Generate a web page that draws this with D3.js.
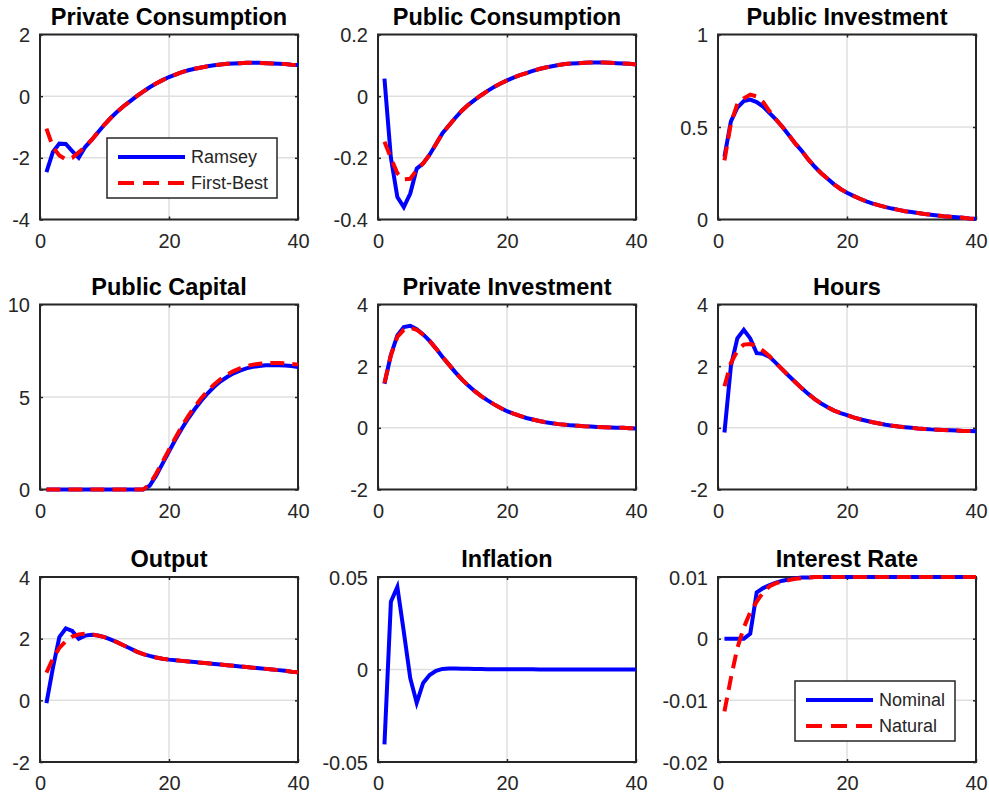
<!DOCTYPE html>
<html>
<head>
<meta charset="utf-8">
<script src="https://cdn.jsdelivr.net/npm/d3@7"></script>
<style>
  html, body { margin: 0; padding: 0; background: #fff; }
  svg { display: block; }
</style>
</head>
<body>
<svg id="chart" width="989" height="797"></svg>
<script>
// ---------- data ----------
const periods = d3.range(1, 41);
const xTicks = [0, 20, 40];

const titles = ["Private Consumption", "Public Consumption", "Public Investment",
  "Public Capital", "Private Investment", "Hours",
  "Output", "Inflation", "Interest Rate"];

const yDomains = [[-4, 2], [-0.4, 0.2], [0, 1], [0, 10], [-2, 4], [-2, 4], [-2, 4], [-0.05, 0.05], [-0.02, 0.01]];
const yTicks = [[-4, -2, 0, 2], [-0.4, -0.2, 0, 0.2], [0, 0.5, 1], [0, 5, 10], [-2, 0, 2, 4], [-2, 0, 2, 4], [-2, 0, 2, 4], [-0.05, 0, 0.05], [-0.02, -0.01, 0, 0.01]];

const legendTop = ["Ramsey", "First-Best"];
const legendRate = ["Nominal", "Natural"];

// Private consumption
const privConsRamsey = [-2.46, -1.81, -1.54, -1.55, -1.78, -2.0, -1.65, -1.42, -1.17, -0.92, -0.70, -0.50, -0.32, -0.16, 0.0, 0.15, 0.29, 0.41, 0.52, 0.62, 0.70, 0.78, 0.84, 0.89, 0.93, 0.97, 1.00, 1.03, 1.05, 1.06, 1.07, 1.08, 1.08, 1.08, 1.07, 1.06, 1.05, 1.04, 1.02, 1.01];
const privConsFirstBest = [-1.05, -1.65, -1.92, -2.05, -2.0, -1.82, -1.65, -1.42, -1.17, -0.92, -0.70, -0.50, -0.32, -0.16, 0.0, 0.15, 0.29, 0.41, 0.52, 0.62, 0.70, 0.78, 0.84, 0.89, 0.93, 0.97, 1.00, 1.03, 1.05, 1.06, 1.07, 1.08, 1.08, 1.08, 1.07, 1.06, 1.05, 1.04, 1.02, 1.01];
// Public consumption
const pubConsRamsey = [0.057, -0.20, -0.327, -0.36, -0.316, -0.235, -0.218, -0.19, -0.155, -0.12, -0.095, -0.07, -0.047, -0.028, -0.012, 0.003, 0.017, 0.03, 0.041, 0.051, 0.060, 0.068, 0.075, 0.082, 0.088, 0.093, 0.097, 0.101, 0.104, 0.106, 0.107, 0.108, 0.109, 0.109, 0.109, 0.108, 0.107, 0.106, 0.105, 0.103];
const pubConsFirstBest = [-0.148, -0.20, -0.25, -0.27, -0.268, -0.24, -0.218, -0.19, -0.155, -0.12, -0.095, -0.07, -0.047, -0.028, -0.012, 0.003, 0.017, 0.03, 0.041, 0.051, 0.060, 0.068, 0.075, 0.082, 0.088, 0.093, 0.097, 0.101, 0.104, 0.106, 0.107, 0.108, 0.109, 0.109, 0.109, 0.108, 0.107, 0.106, 0.105, 0.103];
// Public investment
const pubInvRamsey = [0.34, 0.53, 0.605, 0.64, 0.648, 0.635, 0.61, 0.575, 0.54, 0.50, 0.455, 0.41, 0.37, 0.325, 0.285, 0.25, 0.22, 0.19, 0.165, 0.145, 0.128, 0.112, 0.098, 0.086, 0.076, 0.067, 0.059, 0.052, 0.045, 0.04, 0.035, 0.03, 0.026, 0.022, 0.018, 0.015, 0.012, 0.009, 0.006, 0.004];
const pubInvFirstBest = [0.32, 0.52, 0.625, 0.655, 0.675, 0.665, 0.635, 0.585, 0.54, 0.50, 0.455, 0.41, 0.37, 0.325, 0.285, 0.25, 0.22, 0.19, 0.165, 0.145, 0.128, 0.112, 0.098, 0.086, 0.076, 0.067, 0.059, 0.052, 0.045, 0.04, 0.035, 0.03, 0.026, 0.022, 0.018, 0.015, 0.012, 0.009, 0.006, 0.004];
// Public capital
const pubCapRamsey = [0, 0, 0, 0, 0, 0, 0, 0, 0, 0, 0, 0, 0, 0, 0, 0, 0.2, 0.75, 1.4, 2.05, 2.7, 3.3, 3.85, 4.35, 4.8, 5.2, 5.55, 5.85, 6.08, 6.28, 6.43, 6.55, 6.63, 6.68, 6.71, 6.72, 6.72, 6.7, 6.67, 6.62];
const pubCapFirstBest = [0, 0, 0, 0, 0, 0, 0, 0, 0, 0, 0, 0, 0, 0, 0, 0, 0.28, 0.85, 1.5, 2.15, 2.8, 3.42, 3.98, 4.48, 4.93, 5.33, 5.68, 5.97, 6.2, 6.4, 6.55, 6.67, 6.75, 6.8, 6.83, 6.84, 6.84, 6.82, 6.79, 6.75];
// Private investment
const privInvRamsey = [1.43, 2.37, 3.0, 3.27, 3.31, 3.2, 3.03, 2.82, 2.57, 2.3, 2.05, 1.8, 1.57, 1.37, 1.19, 1.03, 0.89, 0.76, 0.64, 0.54, 0.46, 0.39, 0.32, 0.27, 0.22, 0.18, 0.15, 0.12, 0.1, 0.08, 0.065, 0.05, 0.04, 0.03, 0.02, 0.012, 0.005, 0, -0.01, -0.02];
const privInvFirstBest = [1.45, 2.35, 2.95, 3.18, 3.24, 3.18, 3.02, 2.82, 2.57, 2.3, 2.05, 1.8, 1.57, 1.37, 1.19, 1.03, 0.89, 0.76, 0.64, 0.54, 0.46, 0.39, 0.32, 0.27, 0.22, 0.18, 0.15, 0.12, 0.1, 0.08, 0.065, 0.05, 0.04, 0.03, 0.02, 0.012, 0.005, 0, -0.01, -0.02];
// Hours
const hoursRamsey = [-0.15, 2.0, 2.9, 3.18, 2.9, 2.42, 2.4, 2.3, 2.1, 1.89, 1.68, 1.48, 1.28, 1.1, 0.93, 0.79, 0.67, 0.56, 0.48, 0.41, 0.34, 0.28, 0.23, 0.18, 0.14, 0.1, 0.07, 0.04, 0.02, 0.0, -0.02, -0.035, -0.05, -0.06, -0.07, -0.08, -0.09, -0.1, -0.1, -0.11];
const hoursFirstBest = [1.35, 2.1, 2.5, 2.7, 2.72, 2.65, 2.5, 2.32, 2.1, 1.89, 1.68, 1.48, 1.28, 1.1, 0.93, 0.79, 0.67, 0.56, 0.48, 0.41, 0.34, 0.28, 0.23, 0.18, 0.14, 0.1, 0.07, 0.04, 0.02, 0.0, -0.02, -0.035, -0.05, -0.06, -0.07, -0.08, -0.09, -0.1, -0.1, -0.11];
// Output
const outputRamsey = [-0.09, 1.05, 2.05, 2.33, 2.25, 2.0, 2.1, 2.13, 2.1, 2.05, 1.97, 1.88, 1.78, 1.68, 1.58, 1.5, 1.44, 1.39, 1.35, 1.32, 1.3, 1.28, 1.26, 1.24, 1.22, 1.2, 1.18, 1.16, 1.14, 1.12, 1.1, 1.08, 1.06, 1.04, 1.02, 1.0, 0.98, 0.96, 0.93, 0.91];
const outputFirstBest = [0.9, 1.35, 1.7, 1.92, 2.07, 2.14, 2.16, 2.14, 2.1, 2.05, 1.97, 1.88, 1.78, 1.68, 1.58, 1.5, 1.44, 1.39, 1.35, 1.32, 1.3, 1.28, 1.26, 1.24, 1.22, 1.2, 1.18, 1.16, 1.14, 1.12, 1.1, 1.08, 1.06, 1.04, 1.02, 1.0, 0.98, 0.96, 0.93, 0.91];
// Inflation (Ramsey only)
const inflationRamsey = [-0.0405, 0.0366, 0.0446, 0.0204, -0.0047, -0.018, -0.0073, -0.003, -0.0007, 0.0003, 0.0005, 0.0005, 0.0004, 0.0004, 0.0003, 0.0003, 0.0002, 0.0002, 0.0002, 0.0001, 0.0001, 0.0001, 0.0001, 0.0001, 0, 0, 0, 0, 0, 0, 0, 0, 0, 0, 0, 0, 0, 0, 0, 0];
// Interest rate
const rateNominal = [0, 0, 0, 0, 0.0008, 0.0075, 0.0082, 0.0087, 0.0091, 0.0094, 0.0096, 0.0098, 0.0099, 0.0099, 0.01, 0.01, 0.01, 0.01, 0.01, 0.01, 0.01, 0.01, 0.01, 0.01, 0.01, 0.01, 0.01, 0.01, 0.01, 0.01, 0.01, 0.01, 0.01, 0.01, 0.01, 0.01, 0.01, 0.01, 0.01, 0.01];
const rateNatural = [-0.0118, -0.0064, -0.0015, 0.0018, 0.0043, 0.006, 0.0075, 0.0085, 0.009, 0.0093, 0.0095, 0.0097, 0.0098, 0.0099, 0.01, 0.01, 0.01, 0.01, 0.01, 0.01, 0.01, 0.01, 0.01, 0.01, 0.01, 0.01, 0.01, 0.01, 0.01, 0.01, 0.01, 0.01, 0.01, 0.01, 0.01, 0.01, 0.01, 0.01, 0.01, 0.01];

const solidSeries = [privConsRamsey, pubConsRamsey, pubInvRamsey, pubCapRamsey, privInvRamsey, hoursRamsey, outputRamsey, inflationRamsey, rateNominal];
const dashedSeries = [privConsFirstBest, pubConsFirstBest, pubInvFirstBest, pubCapFirstBest, privInvFirstBest, hoursFirstBest, outputFirstBest, null, rateNatural];

// ---------- layout ----------
const colLeft = [40, 378, 718];
const rowTop = [34.5, 304.5, 577];
const plotW = 258, plotH = 185;
const BLUE = "#0000ff", RED = "#ff0000", AXIS = "#262626", GRID = "#dfdfdf";
const FONT = "'Liberation Sans', Arial, Helvetica, sans-serif";
const DASH = "14,8";

const svg = d3.select("#chart");

titles.forEach((title, i) => {
  const r = Math.floor(i / 3), c = i % 3;
  const g = svg.append("g").attr("transform", `translate(${colLeft[c]},${rowTop[r]})`);
  const x = d3.scaleLinear().domain([0, 40]).range([0, plotW]);
  const y = d3.scaleLinear().domain(yDomains[i]).range([plotH, 0]);

  g.append("rect").attr("width", plotW).attr("height", plotH).attr("fill", "#fff");

  // grid
  g.selectAll(".gx").data(xTicks).enter().append("line")
    .attr("x1", d => x(d)).attr("x2", d => x(d)).attr("y1", 0).attr("y2", plotH)
    .attr("stroke", GRID).attr("stroke-width", 1.5);
  g.selectAll(".gy").data(yTicks[i]).enter().append("line")
    .attr("y1", d => y(d)).attr("y2", d => y(d)).attr("x1", 0).attr("x2", plotW)
    .attr("stroke", GRID).attr("stroke-width", 1.5);

  // axes (inner ticks on all four sides)
  const fmt = d => String(d);
  const axB = g.append("g").attr("transform", `translate(0,${plotH})`)
    .call(d3.axisBottom(x).tickValues(xTicks).tickSizeInner(-3).tickSizeOuter(0).tickPadding(14).tickFormat(fmt));
  const axT = g.append("g")
    .call(d3.axisTop(x).tickValues(xTicks).tickSizeInner(-3).tickSizeOuter(0).tickFormat(""));
  const axL = g.append("g")
    .call(d3.axisLeft(y).tickValues(yTicks[i]).tickSizeInner(-3).tickSizeOuter(0).tickPadding(10).tickFormat(fmt));
  const axR = g.append("g").attr("transform", `translate(${plotW},0)`)
    .call(d3.axisRight(y).tickValues(yTicks[i]).tickSizeInner(-3).tickSizeOuter(0).tickFormat(""));
  [axB, axT, axL, axR].forEach(a => {
    a.select(".domain").remove();
    a.selectAll(".tick line").attr("stroke", AXIS).attr("stroke-width", 1.5);
    a.selectAll(".tick text").attr("fill", AXIS).style("font-family", FONT).style("font-size", "20px");
  });
  axB.selectAll(".tick text").attr("dy", "0.71em");
  axL.selectAll(".tick text").attr("dy", "0.35em");

  // box
  g.append("rect").attr("width", plotW).attr("height", plotH)
    .attr("fill", "none").attr("stroke", AXIS).attr("stroke-width", 2);

  // lines
  const line = d3.line().x((d, k) => x(periods[k])).y(d => y(d));
  g.append("path").datum(solidSeries[i]).attr("d", line)
    .attr("fill", "none").attr("stroke", BLUE).attr("stroke-width", 4).attr("stroke-linejoin", "miter");
  if (dashedSeries[i]) {
    g.append("path").datum(dashedSeries[i]).attr("d", line)
      .attr("fill", "none").attr("stroke", RED).attr("stroke-width", 4)
      .attr("stroke-dasharray", DASH);
  }

  // title
  svg.append("text").attr("x", colLeft[c] + plotW / 2).attr("y", rowTop[r] - 10)
    .attr("text-anchor", "middle").style("font-family", FONT).style("font-weight", "bold")
    .style("font-size", "23.5px").attr("fill", "#000").text(title);
});

// ---------- legends ----------
function legend(x0, y0, w, h, labels) {
  const g = svg.append("g").attr("transform", `translate(${x0},${y0})`);
  g.append("rect").attr("width", w).attr("height", h).attr("fill", "#fff")
    .attr("stroke", AXIS).attr("stroke-width", 1.5);
  const rows = [19, 45];
  labels.forEach((lab, k) => {
    g.append("line").attr("x1", 11).attr("x2", 78).attr("y1", rows[k]).attr("y2", rows[k])
      .attr("stroke", k === 0 ? BLUE : RED).attr("stroke-width", 4)
      .attr("stroke-dasharray", k === 0 ? null : "16,9");
    g.append("text").attr("x", 84).attr("y", rows[k]).attr("dy", "0.35em")
      .style("font-family", FONT).style("font-size", "18px").attr("fill", AXIS).text(lab);
  });
}
legend(107, 138, 170, 60, legendTop);
legend(795, 681, 160, 60, legendRate);
</script>
</body>
</html>
